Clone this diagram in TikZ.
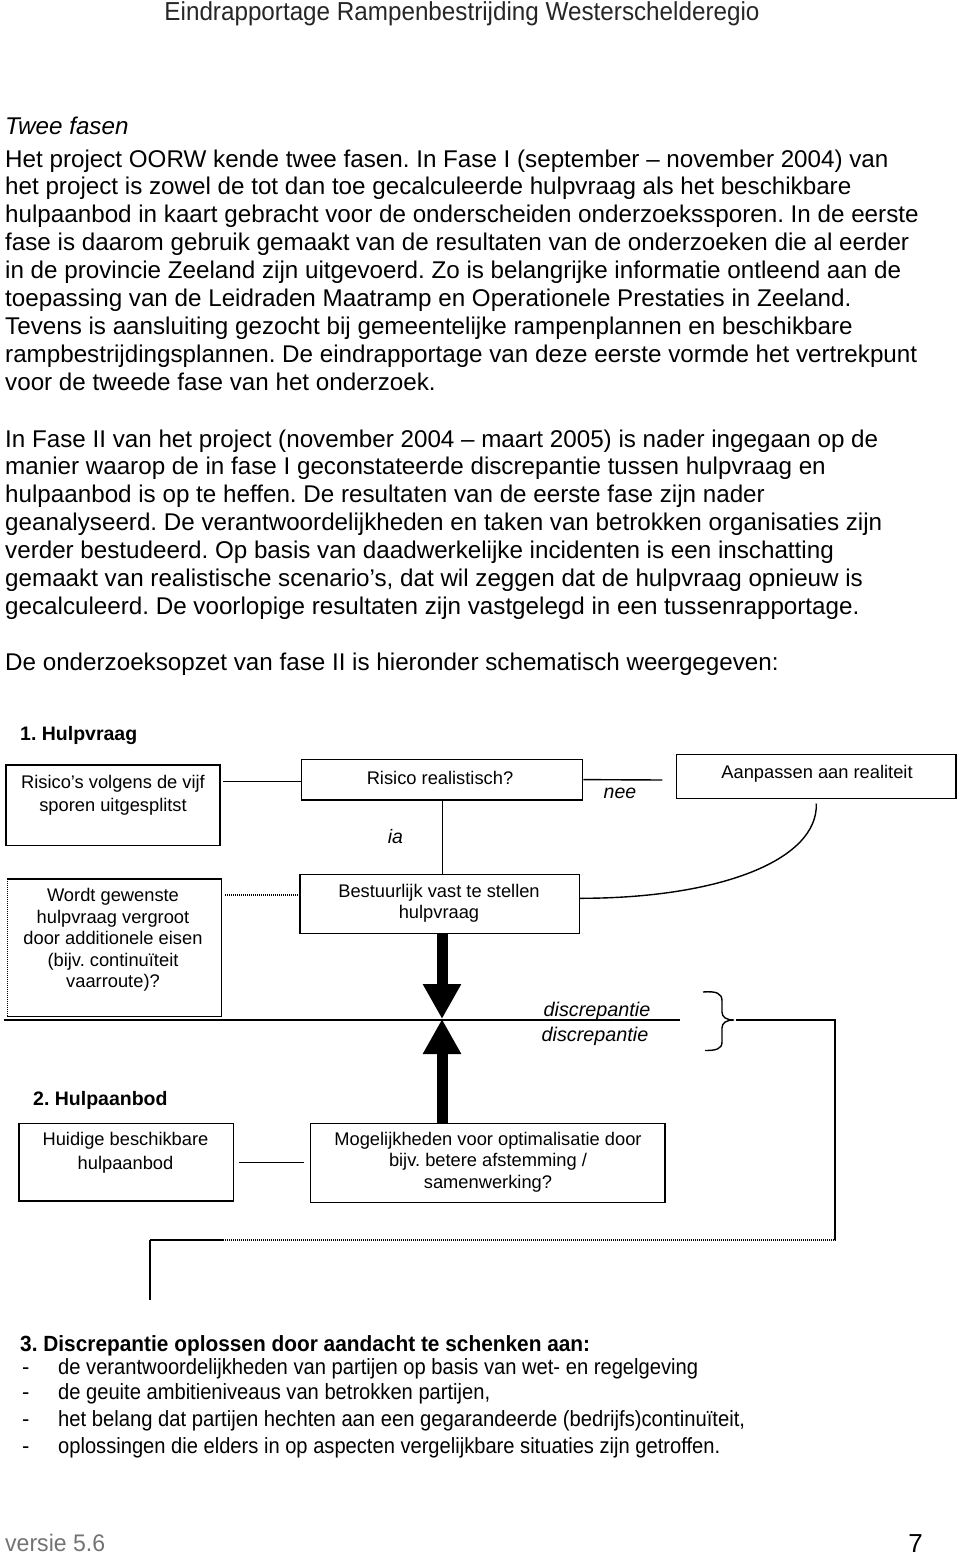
\documentclass[tikz,border=0pt]{standalone}
\usepackage{fontspec}
\usepackage{graphicx}
\setmainfont{Liberation Sans}
\usetikzlibrary{arrows.meta}
\newcommand{\fitw}[2]{\resizebox{#1}{\height}{#2}}
\frenchspacing
\begin{document}
\frenchspacing
\begin{tikzpicture}[x=1pt,y=-1pt,
  body/.style={anchor=base west, inner sep=0pt, font=\fontsize{24.2}{29}\selectfont},
  box/.style={draw, line width=1.4pt, inner sep=0pt},
  dbox/.style={draw, line width=1.4pt, dash pattern=on 1.5pt off 0.5pt, inner sep=0pt},
  dtext/.style={align=center, inner sep=0pt, font=\fontsize{18.3}{23}\selectfont},
  lbl/.style={inner sep=0pt, font=\fontsize{19.5}{23}\selectfont\itshape},
  conn/.style={line width=1.4pt},
  dots/.style={line width=1.4pt, dash pattern=on 1.5pt off 0.5pt},
  bigarrow/.style={line width=11pt, -{Triangle[width=36pt,length=35pt]}},
  hd/.style={anchor=west, inner sep=0pt, font=\fontsize{19.5}{23}\selectfont\bfseries},
  sec/.style={anchor=base west, inner sep=0pt, font=\fontsize{22}{26}\selectfont}
]
\useasboundingbox (0,0) rectangle (960,1555);

% header
\node[anchor=base, inner sep=0pt, text=black!85, font=\fontsize{26}{30}\selectfont] (hdr) at (462,21) {\fitw{595pt}{Eindrapportage Rampenbestrijding Westerschelderegio}};

% body text
\node[body, font=\fontsize{24.2}{29}\selectfont\itshape] (tf) at (5,134) {Twee fasen};
\node[body] (p1a) at (5,167.0) {Het project OORW kende twee fasen. In Fase I (september -- november 2004) van};
\node[body] (p1b) at (5,194.9) {het project is zowel de tot dan toe gecalculeerde hulpvraag als het beschikbare};
\node[body] (p1c) at (5,222.8) {hulpaanbod in kaart gebracht voor de onderscheiden onderzoekssporen. In de eerste};
\node[body] (p1d) at (5,250.7) {fase is daarom gebruik gemaakt van de resultaten van de onderzoeken die al eerder};
\node[body] (p1e) at (5,278.6) {in de provincie Zeeland zijn uitgevoerd. Zo is belangrijke informatie ontleend aan de};
\node[body] (p1f) at (5,306.5) {toepassing van de Leidraden Maatramp en Operationele Prestaties in Zeeland.};
\node[body] (p1g) at (5,334.4) {Tevens is aansluiting gezocht bij gemeentelijke rampenplannen en beschikbare};
\node[body] (p1h) at (5,362.3) {rampbestrijdingsplannen. De eindrapportage van deze eerste vormde het vertrekpunt};
\node[body] (p1i) at (5,390.2) {voor de tweede fase van het onderzoek.};

\node[body] (p2a) at (5,447.0) {In Fase II van het project (november 2004 -- maart 2005) is nader ingegaan op de};
\node[body] (p2b) at (5,474.9) {manier waarop de in fase I geconstateerde discrepantie tussen hulpvraag en};
\node[body] (p2c) at (5,502.8) {hulpaanbod is op te heffen. De resultaten van de eerste fase zijn nader};
\node[body] (p2d) at (5,530.7) {geanalyseerd. De verantwoordelijkheden en taken van betrokken organisaties zijn};
\node[body] (p2e) at (5,558.6) {verder bestudeerd. Op basis van daadwerkelijke incidenten is een inschatting};
\node[body] (p2f) at (5,586.5) {gemaakt van realistische scenario’s, dat wil zeggen dat de hulpvraag opnieuw is};
\node[body] (p2g) at (5,614.4) {gecalculeerd. De voorlopige resultaten zijn vastgelegd in een tussenrapportage.};

\node[body] (p3) at (5,670) {De onderzoeksopzet van fase II is hieronder schematisch weergegeven:};

% diagram part 1
\node[hd] (h1) at (20,735) {1. Hulpvraag};

\node[box, minimum width=214.3pt, minimum height=80.7pt] (A) at (113,805.3) {};
\node[dtext] (At) at (113,795) {Risico’s volgens de vijf\\sporen uitgesplitst};

\node[box, minimum width=281pt, minimum height=40.7pt] (B) at (442.2,779.6) {};
\node[dtext] (Bt) at (440,778) {Risico realistisch?};

\node[box, minimum width=279.3pt, minimum height=44pt] (C) at (816.3,776.3) {};
\node[dtext] (Ct) at (817,774) {Aanpassen aan realiteit};

\node[box, minimum width=279.3pt, minimum height=59pt] (D) at (439.7,903.8) {};
\node[dtext, font=\fontsize{18.3}{20.6}\selectfont] (Dt) at (439,903) {Bestuurlijk vast te stellen\\hulpvraag};

\node[dbox, minimum width=214.4pt, minimum height=137.5pt] (E) at (114.5,947.8) {};
\node[dtext, font=\fontsize{18.3}{21.5}\selectfont] (Et) at (113,940) {Wordt gewenste\\hulpvraag vergroot\\door additionele eisen\\(bijv. continuïteit\\vaarroute)?};

\draw[conn] ([yshift=-2pt]B.west -| A.east) ++(2,0) -- ([yshift=-2pt]B.west);
\coordinate (Cn) at (662.3,780);
\draw[conn] (B.east) -- (Cn);
\node[lbl] (nee) at (620,793.3) {nee};
\draw[conn] (B.south) -- (B.south |- D.north);
\node[lbl] (ia) at (395.5,837) {ia};
\draw[conn] ([yshift=-4.5pt]C.south) .. controls (818.3,860) and (720,898.3) .. ([yshift=5.5pt]D.east);
\draw[dots] ([yshift=9pt]D.west -| E.east) ++(2.5,0) -- ([yshift=9pt]D.west);

% discrepancy line and arrows
\coordinate (X) at (442,1019);
\coordinate (L0) at (4,1020);
\coordinate (L1) at (680,1020);
\draw[dots] (L0) -- (L1);
\node[lbl, font=\fontsize{19.8}{23}\selectfont\itshape] (d1) at (597,1011.7) {discrepantie};
\node[lbl, font=\fontsize{19.8}{23}\selectfont\itshape] (d2) at (595,1036) {discrepantie};

\draw[line width=1.4pt] (703,992) .. controls (716,991) and (722,993) .. (722,1001) -- (722,1012) .. controls (722,1017) and (726,1020) .. (734,1020) .. controls (726,1020) and (722,1023) .. (722,1028) -- (722,1042) .. controls (722,1049) and (716,1050.5) .. (705,1050.5);
\coordinate (BT) at (736,1020);
\coordinate (P1) at (835,1020);
\coordinate (P2) at (835,1240);
\coordinate (P3) at (150,1240);
\coordinate (P4) at (150,1300);
\draw[dots] (BT) -- (P1) -- (P2) -- (P3) -- (P4);

% diagram part 2
\node[hd] (h2) at (33,1100) {2. Hulpaanbod};
\node[box, minimum width=214.3pt, minimum height=77.7pt] (G) at (126.2,1162.2) {};
\node[dtext, font=\fontsize{18.3}{24}\selectfont] (Gt) at (125.5,1152.5) {Huidige beschikbare\\hulpaanbod};
\node[box, minimum width=354.3pt, minimum height=79pt] (F) at (487.9,1162.8) {};
\node[dtext, font=\fontsize{18.3}{21.3}\selectfont] (Ft) at (488,1162) {Mogelijkheden voor optimalisatie door\\bijv. betere afstemming /\\samenwerking?};
\draw[conn] ([xshift=4.5pt]G.east) -- ([xshift=-6.5pt]F.west |- G.east);

\draw[bigarrow] (D.south -| X) -- (X);
\draw[bigarrow] (F.north -| X) -- (X);

% section 3
\node[sec, font=\fontsize{22}{26}\selectfont\bfseries] (s3) at (20,1351) {\fitw{570pt}{3. Discrepantie oplossen door aandacht te schenken aan:}};
\node[sec] (b1) at (22,1374) {-};
\node[sec] (t1) at (58,1374) {\fitw{640pt}{de verantwoordelijkheden van partijen op basis van wet- en regelgeving}};
\node[sec] (b2) at (22,1399) {-};
\node[sec] (t2) at (58,1399) {\fitw{432pt}{de geuite ambitieniveaus van betrokken partijen,}};
\node[sec] (b3) at (22,1426) {-};
\node[sec] (t3) at (58,1426) {\fitw{687pt}{het belang dat partijen hechten aan een gegarandeerde (bedrijfs)continuïteit,}};
\node[sec] (b4) at (22,1453) {-};
\node[sec] (t4) at (58,1453) {\fitw{662pt}{oplossingen die elders in op aspecten vergelijkbare situaties zijn getroffen.}};

% footer
\node[anchor=base west, inner sep=0pt, text=black!55, font=\fontsize{24}{28}\selectfont] (ver) at (5,1551) {\fitw{100pt}{versie 5.6}};
\node[anchor=base east, inner sep=0pt, font=\fontsize{26}{28}\selectfont] (pg) at (923,1552) {7};
\end{tikzpicture}
\end{document}
